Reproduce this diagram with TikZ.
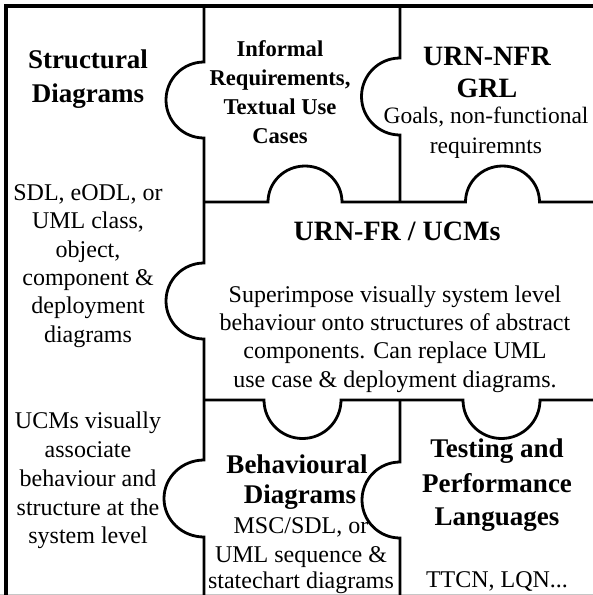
\documentclass[tikz,border=0pt]{standalone}
\usepackage{fontspec}
\setmainfont{Liberation Serif}
\begin{document}
\begin{tikzpicture}[x=1pt,y=-1pt,
  frame/.style={line width=4pt,line cap=rect},
  edge/.style={line width=2.8pt,line join=miter},
  head/.style={font=\fontsize{27}{32}\selectfont\bfseries,anchor=base,inner sep=0pt},
  headbig/.style={font=\fontsize{28}{33}\selectfont\bfseries,anchor=base,inner sep=0pt},
  headsmall/.style={font=\fontsize{22.6}{26}\selectfont\bfseries,anchor=base,inner sep=0pt},
  body/.style={font=\fontsize{24}{28}\selectfont,anchor=base,inner sep=0pt},
  bodysmall/.style={font=\fontsize{23.5}{27}\selectfont,anchor=base,inner sep=0pt}]
\useasboundingbox (0,0) rectangle (593,595);
\fill[white] (0,0) rectangle (593,595);
% bottom grey edge
\draw[gray!45,line width=1pt] (0,594) -- (593,594);
% outer frame (top and left)
\draw[frame] (6,595) -- (6,6) -- (593,6);
% left vertical seam with three knobs
\draw[edge] (204,6) -- (204,62) arc[start angle=270,end angle=90,radius=38]
  -- (204,263) arc[start angle=270,end angle=90,radius=38]
  -- (204,460) arc[start angle=270,end angle=90,x radius=40,y radius=38.5]
  -- (204,595);
% upper middle vertical seam
\draw[edge] (400,6) -- (400,58) arc[start angle=270,end angle=90,radius=38.5] -- (400,202);
% upper horizontal seam
\draw[edge] (204,202) -- (268,202) arc[start angle=180,end angle=360,x radius=37,y radius=36]
  -- (465.5,202) arc[start angle=180,end angle=360,x radius=37,y radius=36] -- (593,202);
% lower horizontal seam
\draw[edge] (204,400) -- (264,400) arc[start angle=180,end angle=0,radius=38.5]
  -- (463,400) arc[start angle=180,end angle=0,radius=38.5] -- (593,400);
% lower middle vertical seam
\draw[edge] (400,400) -- (400,462) arc[start angle=270,end angle=90,radius=38] -- (400,595);

% Structural piece
\node[head] (st1) at (88,68) {Structural};
\node[head] (st2) at (88,102) {Diagrams};
\foreach \t/\y [count=\i] in {{SDL, eODL, or}/200,{UML class,}/228,{object,}/257,{component \&}/285,{deployment}/313,{diagrams}/342}
  \node[body] (sb\i) at (88,\y) {\t};
\foreach \t/\y [count=\i] in {{UCMs visually}/428,{associate}/457,{behaviour and}/486,{structure at the}/515,{system level}/543}
  \node[body] (su\i) at (88,\y) {\t};

% Informal piece
\foreach \t/\y [count=\i] in {{Informal}/56,{Requirements,}/85,{Textual Use}/114,{Cases}/143}
  \node[headsmall] (in\i) at (280,\y) {\t};

% URN-NFR piece
\node[headbig] (nf1) at (487,65) {URN-NFR};
\node[headbig] (nf2) at (487,97) {GRL};
\node[bodysmall] (nf3) at (486,123) {Goals, non-functional};
\node[bodysmall] (nf4) at (486,153) {requiremnts};

% URN-FR piece
\node[headbig] (fr) at (397,240) {URN-FR / UCMs};
\foreach \t/\y [count=\i] in {{Superimpose visually system level}/302,{behaviour onto structures of abstract}/330,{components. Can replace UML}/358,{use case \& deployment diagrams.}/387}
  \node[body] (fb\i) at (395,\y) {\t};

% Behavioural piece
\node[head] (be1) at (297,473) {Behavioural};
\node[head] (be2) at (300,503) {Diagrams};
\foreach \t/\y [count=\i] in {{MSC/SDL, or}/533,{UML sequence \&}/562,{statechart diagrams}/588}
  \node[body] (bb\i) at (301,\y) {\t};

% Testing piece
\node[head] (te1) at (497,457) {Testing and};
\node[head] (te2) at (497,492) {Performance};
\node[head] (te3) at (497,525) {Languages};
\node[body] (te4) at (497,587) {TTCN, LQN...};
\end{tikzpicture}
\end{document}
